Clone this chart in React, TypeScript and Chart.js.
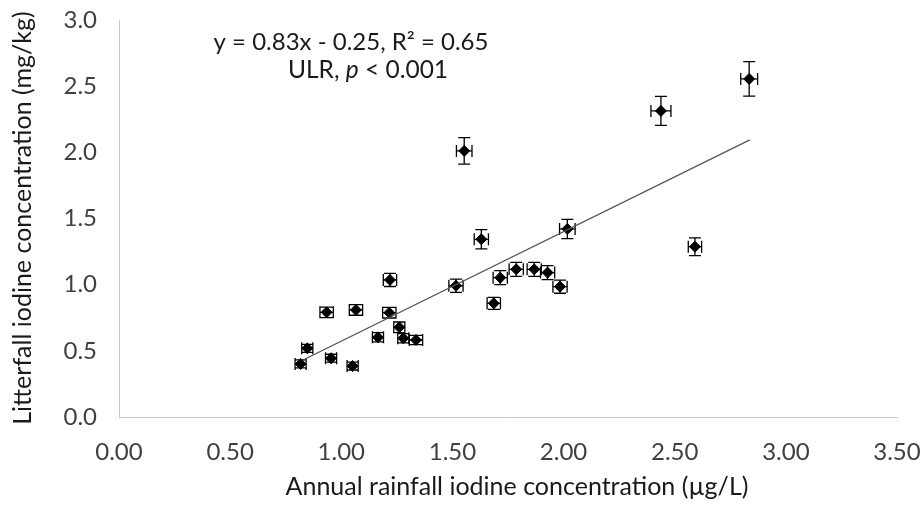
import { useEffect, useRef } from "react";
import { Chart, registerables } from "chart.js";

Chart.register(...registerables);

// Annual rainfall iodine concentration (µg/L)
const rainfall = [
  0.817, 0.847, 0.934, 0.954, 1.051, 1.066, 1.165, 1.216, 1.219, 1.261, 1.279, 1.336,
  1.516, 1.553, 1.63, 1.686, 1.715, 1.787, 1.868, 1.928, 1.984, 2.017, 2.438, 2.591, 2.835,
];
// Litterfall iodine concentration (mg/kg)
const litterfall = [
  0.401, 0.519, 0.791, 0.444, 0.385, 0.809, 0.602, 0.788, 1.036, 0.678, 0.595, 0.582,
  0.992, 2.011, 1.343, 0.859, 1.053, 1.116, 1.116, 1.091, 0.985, 1.421, 2.313, 1.287, 2.555,
];
const rainfallErr = [
  0.025, 0.025, 0.03, 0.025, 0.025, 0.03, 0.025, 0.03, 0.03, 0.025, 0.025, 0.03,
  0.032, 0.035, 0.032, 0.03, 0.032, 0.032, 0.032, 0.032, 0.032, 0.035, 0.045, 0.03, 0.038,
];
const litterfallErr = [
  0.03, 0.03, 0.04, 0.03, 0.03, 0.04, 0.035, 0.04, 0.05, 0.04, 0.035, 0.035,
  0.05, 0.1, 0.073, 0.045, 0.053, 0.053, 0.053, 0.053, 0.05, 0.073, 0.11, 0.067, 0.13,
];
const trendX = [0.837, 2.838];
const trendY = [0.438, 2.094];

const xTickLabels = ["0.00", "0.50", "1.00", "1.50", "2.00", "2.50", "3.00", "3.50"];
const yTickLabels = ["0.0", "0.5", "1.0", "1.5", "2.0", "2.5", "3.0"];

const xTitle = "Annual rainfall iodine concentration (µg/L)";
const yTitle = "Litterfall iodine concentration (mg/kg)";
const eqLine = "y = 0.83x - 0.25, R\u00B2 = 0.65";
const pLineParts = ["ULR, ", "p", " < 0.001"];

const FONT = "Lato, 'Open Sans', sans-serif";

const errorBarPlugin = {
  id: "errorBars",
  beforeDatasetsDraw(chart: any) {
    const { ctx, scales } = chart;
    const xs = scales.x;
    const ys = scales.y;
    const cap = 6;
    ctx.save();
    ctx.strokeStyle = "#000";
    ctx.lineWidth = 1.3;
    rainfall.forEach((xv, i) => {
      const yv = litterfall[i];
      const px = xs.getPixelForValue(xv);
      const py = ys.getPixelForValue(yv);
      const x1 = xs.getPixelForValue(xv - rainfallErr[i]);
      const x2 = xs.getPixelForValue(xv + rainfallErr[i]);
      const y1 = ys.getPixelForValue(yv - litterfallErr[i]);
      const y2 = ys.getPixelForValue(yv + litterfallErr[i]);
      ctx.beginPath();
      ctx.moveTo(x1, py);
      ctx.lineTo(x2, py);
      ctx.moveTo(x1, py - cap);
      ctx.lineTo(x1, py + cap);
      ctx.moveTo(x2, py - cap);
      ctx.lineTo(x2, py + cap);
      ctx.moveTo(px, y1);
      ctx.lineTo(px, y2);
      ctx.moveTo(px - cap, y1);
      ctx.lineTo(px + cap, y1);
      ctx.moveTo(px - cap, y2);
      ctx.lineTo(px + cap, y2);
      ctx.stroke();
    });
    ctx.restore();
  },
};

const textPlugin = {
  id: "texts",
  afterDraw(chart: any) {
    const { ctx, chartArea } = chart;
    ctx.save();
    ctx.fillStyle = "#1a1a1a";
    ctx.textBaseline = "middle";
    ctx.textAlign = "center";
    // x title
    ctx.font = `25px ${FONT}`;
    ctx.fillText(xTitle, 517, 487);
    // y title
    ctx.save();
    ctx.translate(23, 218);
    ctx.rotate(-Math.PI / 2);
    ctx.fillText(yTitle, 0, 0);
    ctx.restore();
    // equation
    ctx.font = `24px ${FONT}`;
    ctx.fillText(eqLine, 351, 42);
    // p line with italic p
    ctx.textAlign = "left";
    const normal = `24.5px ${FONT}`;
    const italic = `italic 24.5px ${FONT}`;
    const fonts = [normal, italic, normal];
    let total = 0;
    const widths = pLineParts.map((t, i) => {
      ctx.font = fonts[i];
      const w = ctx.measureText(t).width;
      total += w;
      return w;
    });
    let cx = 368 - total / 2;
    pLineParts.forEach((t, i) => {
      ctx.font = fonts[i];
      ctx.fillText(t, cx, 70);
      cx += widths[i];
    });
    ctx.restore();
  },
};

export default function App() {
  const ref = useRef<HTMLCanvasElement | null>(null);
  useEffect(() => {
    if (!ref.current) return;
    const chart = new Chart(ref.current, {
      type: "scatter",
      data: {
        datasets: [
          {
            type: "line",
            data: trendX.map((x, i) => ({ x, y: trendY[i] })),
            borderColor: "#555",
            borderWidth: 1.3,
            pointRadius: 0,
            fill: false,
          } as any,
          {
            data: rainfall.map((x, i) => ({ x, y: litterfall[i] })),
            pointStyle: "rectRot",
            pointRadius: 5.5,
            backgroundColor: "#000",
            borderColor: "#000",
            borderWidth: 1,
          },
        ],
      },
      options: {
        responsive: false,
        animation: false,
        layout: { padding: { top: 20, right: 24, left: 0, bottom: 0 } },
        plugins: { legend: { display: false }, tooltip: { enabled: false } },
        scales: {
          x: {
            type: "linear",
            min: 0,
            max: 3.5,
            afterFit: (s: any) => {
              s.height = 89;
              s.paddingLeft = 0;
              s.paddingRight = 0;
            },
            grid: { drawOnChartArea: false, drawTicks: false },
            border: { color: "#c8c8c8", width: 1 },
            ticks: {
              stepSize: 0.5,
              padding: 21,
              color: "#404040",
              font: { family: FONT, size: 24 },
              callback: (_v: any, i: number) => xTickLabels[i],
            },
          },
          y: {
            type: "linear",
            min: 0,
            max: 3,
            afterFit: (s: any) => {
              s.width = 119;
              s.paddingTop = 0;
              s.paddingBottom = 0;
            },
            grid: { drawOnChartArea: false, drawTicks: false },
            border: { color: "#c8c8c8", width: 1 },
            ticks: {
              stepSize: 0.5,
              padding: 22,
              color: "#404040",
              font: { family: FONT, size: 24 },
              callback: (_v: any, i: number) => yTickLabels[i],
            },
          },
        },
      },
      plugins: [errorBarPlugin, textPlugin],
    });
    return () => chart.destroy();
  }, []);
  return (
    <div style={{ position: "fixed", left: 0, top: 0, width: 921, height: 506, background: "#fff" }}>
      <canvas ref={ref} width={921} height={506} style={{ width: 921, height: 506 }} />
    </div>
  );
}
